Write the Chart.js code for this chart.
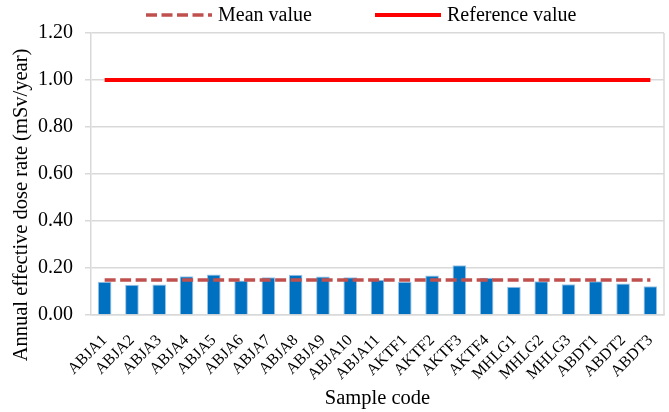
<!DOCTYPE html>
<html>
<head>
<meta charset="utf-8">
<script src="https://cdn.jsdelivr.net/npm/chart.js@4.4.1/dist/chart.umd.min.js"></script>
<style>
  html, body { margin: 0; padding: 0; background: #fff; }
  #wrap { width: 669px; height: 412px; }
</style>
</head>
<body>
<div id="wrap"><canvas id="chartCanvas" width="669" height="412"></canvas></div>
<script>
const sampleCodes = ['ABJA1', 'ABJA2', 'ABJA3', 'ABJA4', 'ABJA5', 'ABJA6', 'ABJA7', 'ABJA8', 'ABJA9', 'ABJA10', 'ABJA11',
    'AKTF1', 'AKTF2', 'AKTF3', 'AKTF4', 'MHLG1', 'MHLG2', 'MHLG3', 'ABDT1', 'ABDT2', 'ABDT3'];
const doseRates = [0.141, 0.129, 0.130, 0.165, 0.172, 0.147, 0.161, 0.171, 0.164, 0.161, 0.150,
    0.141, 0.168, 0.212, 0.158, 0.120, 0.144, 0.131, 0.144, 0.134, 0.122];
const meanValues = [0.149, 0.149, 0.149, 0.149, 0.149, 0.149, 0.149, 0.149, 0.149, 0.149, 0.149,
    0.149, 0.149, 0.149, 0.149, 0.149, 0.149, 0.149, 0.149, 0.149, 0.149];
const referenceValues = [1, 1, 1, 1, 1, 1, 1, 1, 1, 1, 1, 1, 1, 1, 1, 1, 1, 1, 1, 1, 1];
const yTicks = [0, 0.2, 0.4, 0.6, 0.8, 1.0, 1.2];

const serif = '"Liberation Serif", "Times New Roman", serif';
const gridColor = '#D9D9D9';

// legend, y title and right frame line, drawn by hand like the original
const extras = {
    id: 'extras',
    afterDraw(chart) {
        const ctx = chart.ctx;
        const area = chart.chartArea;
        ctx.save();

        ctx.strokeStyle = gridColor;
        ctx.lineWidth = 1.5;
        ctx.beginPath();
        ctx.moveTo(area.right, area.top);
        ctx.lineTo(area.right, area.bottom);
        ctx.stroke();

        ctx.font = '20px ' + serif;
        ctx.fillStyle = '#000';
        ctx.textBaseline = 'middle';
        ctx.textAlign = 'left';

        const items = [
            { ds: chart.data.datasets[1], x: 146, w: 66 },
            { ds: chart.data.datasets[2], x: 375, w: 66 }
        ];
        items.forEach(item => {
            ctx.strokeStyle = item.ds.borderColor;
            ctx.lineWidth = item.ds.borderWidth;
            ctx.setLineDash(item.ds.borderDash || []);
            ctx.beginPath();
            ctx.moveTo(item.x, 15);
            ctx.lineTo(item.x + item.w, 15);
            ctx.stroke();
            ctx.setLineDash([]);
            ctx.fillText(item.ds.label, item.x + item.w + 6, 16);
        });

        ctx.font = '20.5px ' + serif;
        ctx.translate(22, 205);
        ctx.rotate(-Math.PI / 2);
        ctx.textAlign = 'center';
        ctx.fillText('Annual effective dose rate (mSv/year)', 0, 0);
        ctx.restore();
    }
};

const chart = new Chart(document.getElementById('chartCanvas').getContext('2d'), {
    type: 'bar',
    data: {
        labels: sampleCodes,
        datasets: [{
            type: 'bar',
            label: 'Dose rate',
            data: doseRates,
            backgroundColor: '#0070C0',
            borderColor: '#9DC3E6',
            borderWidth: 1,
            barPercentage: 0.5,
            categoryPercentage: 1,
            order: 3
        }, {
            type: 'line',
            label: 'Mean value',
            data: meanValues,
            borderColor: '#C0504D',
            borderWidth: 3.5,
            borderDash: [11, 4.5],
            pointRadius: 0,
            fill: false,
            order: 2
        }, {
            type: 'line',
            label: 'Reference value',
            data: referenceValues,
            borderColor: '#FF0000',
            borderWidth: 4,
            pointRadius: 0,
            fill: false,
            order: 1
        }]
    },
    options: {
        responsive: false,
        animation: false,
        layout: { padding: { top: 33, right: 5, left: 0, bottom: 0 } },
        plugins: {
            legend: { display: false },
            tooltip: { enabled: false }
        },
        scales: {
            x: {
                grid: { display: false },
                border: { color: gridColor, width: 1.5 },
                ticks: {
                    color: '#000',
                    font: { family: serif, size: 16 },
                    minRotation: 45,
                    maxRotation: 45,
                    autoSkip: false,
                    padding: 8
                },
                title: {
                    display: true,
                    text: 'Sample code',
                    color: '#000',
                    font: { family: serif, size: 20.5 },
                    padding: { top: 4, bottom: 1 }
                },
                afterFit: (scale) => {
                    scale.height = 97;
                    scale.paddingLeft = 0;
                    scale.paddingRight = 0;
                }
            },
            y: {
                min: 0,
                max: 1.2,
                afterBuildTicks: (scale) => { scale.ticks = yTicks.map(v => ({ value: v })); },
                grid: { color: gridColor, lineWidth: 1.5, tickLength: 6 },
                border: { color: gridColor, width: 1.5 },
                ticks: {
                    color: '#000',
                    font: { family: serif, size: 20 },
                    padding: 12,
                    callback: (v) => Number(v).toFixed(2)
                },
                afterFit: (scale) => { scale.width = 91; }
            }
        }
    },
    plugins: [extras]
});
</script>
</body>
</html>
